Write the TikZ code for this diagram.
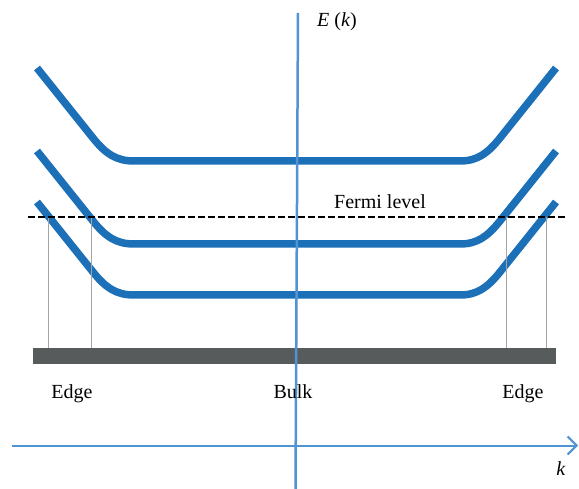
\documentclass[tikz,border=0pt]{standalone}
\usepackage{fontspec}
\setmainfont{Liberation Serif}
\usetikzlibrary{arrows.meta}
\definecolor{band}{RGB}{28,112,184}
\definecolor{axisblue}{RGB}{80,148,212}
\definecolor{bar}{RGB}{88,91,92}
\definecolor{guide}{RGB}{165,165,165}
\tikzset{
  bandline/.style={band, line width=7.5pt},
  guideline/.style={guide, line width=1pt},
  lbl/.style={font=\fontsize{20}{24}\selectfont, inner sep=0pt},
}
\begin{document}
\begin{tikzpicture}[x=1pt,y=-1pt]
\useasboundingbox (0,0) rectangle (579,489);
% bands
\foreach \o in {0,83,134}{
  \draw[bandline] (37,{68+\o}) -- (93,{138+\o})
     .. controls (105.5,{153.6+\o}) and (116,{161+\o}) .. (134,{161+\o})
     -- (460,{161+\o})
     .. controls (477,{161+\o}) and (487.5,{153.6+\o}) .. (500,{138+\o})
     -- (556,{68+\o});
}
% guides
\coordinate (g1t) at (48,217); \coordinate (g1b) at (48,349);
\coordinate (g2t) at (91,217); \coordinate (g2b) at (91,349);
\coordinate (g3t) at (506,217); \coordinate (g3b) at (506,349);
\coordinate (g4t) at (546.5,217); \coordinate (g4b) at (546.5,349);
\draw[guideline] (g1t) -- (g1b);
\draw[guideline] (g2t) -- (g2b);
\draw[guideline] (g3t) -- (g3b);
\draw[guideline] (g4t) -- (g4b);
% bar
\fill[bar] (33,348) rectangle (555.5,364);
% fermi level
\coordinate (fl) at (28,217.5); \coordinate (fr) at (567,217.5);
\draw[black, line width=2pt, dash pattern=on 6.5pt off 3.5pt] (fl) -- (fr);
\node[lbl, anchor=base] (fermi) at (380,209) {Fermi level};
% axes
\coordinate (xl) at (12,445.5); \coordinate (xr) at (578,445.5);
\draw[axisblue, line width=2pt, -{Straight Barb[length=9pt,width=18pt,line width=2pt]}] (xl) -- (xr);
\coordinate (yt) at (298,13); \coordinate (yb) at (295.5,489);
\draw[axisblue, line width=2.5pt] (yb) -- (yt);
% labels
\node[lbl, anchor=base] (e1) at (72,399) {Edge};
\node[lbl, anchor=base] (bulk) at (293,399) {Bulk};
\node[lbl, anchor=base] (e2) at (523,399) {Edge};
\node[lbl, anchor=base] (ek) at (337,27) {\textit{E} (\textit{k})};
\node[lbl, anchor=base] (k) at (561,475) {\textit{k}};
\end{tikzpicture}
\end{document}
